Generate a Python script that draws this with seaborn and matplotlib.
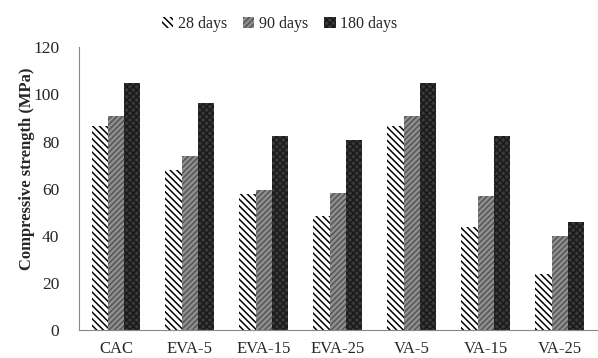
import numpy as np
import pandas as pd
import matplotlib
matplotlib.use("Agg")
import matplotlib.pyplot as plt
import seaborn as sns

# Data
mixes = ["CAC", "EVA-5", "EVA-15", "EVA-25", "VA-5", "VA-15", "VA-25"]
ages = ["28 days", "90 days", "180 days"]
days_28 = [86.5, 68.0, 57.8, 48.5, 86.5, 43.7, 23.8]
days_90 = [90.8, 74.0, 59.6, 58.3, 90.8, 57.0, 40.0]
days_180 = [105.0, 96.5, 82.2, 80.7, 105.0, 82.2, 45.8]

df = pd.DataFrame({
    "mix": mixes * 3,
    "age": [a for a in ages for _ in mixes],
    "strength": days_28 + days_90 + days_180,
})

sns.set_style("white")
plt.rcParams["font.family"] = ["Liberation Serif", "DejaVu Serif"]
plt.rcParams["hatch.linewidth"] = 1.1

fig = plt.figure(figsize=(5.98, 3.58), dpi=100)
ax = fig.add_axes([0.132, 0.078, 0.866, 0.79])

faces = ["white", "#8f8f8f", "#3a3a3a"]
hatches = ["\\\\\\\\\\", "//////", "xxxxx"]
edges = ["black", "#555555", "#1a1a1a"]

sns.barplot(data=df, x="mix", y="strength", hue="age", order=mixes,
            hue_order=ages, palette=faces, width=0.66, gap=0,
            saturation=1, ax=ax, legend=False)

for cont, fc, h, ec in zip(ax.containers, faces, hatches, edges):
    for bar in cont:
        bar.set_facecolor(fc)
        bar.set_hatch(h)
        bar.set_edgecolor(ec)
        bar.set_linewidth(0)

ax.set_ylim(0, 120)
ax.set_xlim(-0.5, len(mixes) - 0.5)
ax.set_yticks(np.arange(0, 121, 20))
ax.set_xticks(np.arange(len(mixes)))
ax.set_xticks(np.arange(-0.5, len(mixes), 1), minor=True)
ax.tick_params(axis="x", which="major", length=0, labelsize=12, pad=8)
ax.tick_params(axis="x", which="minor", length=4, color="#888888", direction="out")
ax.tick_params(axis="y", length=4, color="#888888", direction="out", labelsize=12.5, pad=10)

ax.set_xlabel("")
ax.set_ylabel("Compressive strength (MPa)", fontsize=12, fontweight="bold")
ax.yaxis.set_label_coords(-0.085, 0.57)

for side in ["top", "right"]:
    ax.spines[side].set_visible(False)
for side in ["left", "bottom"]:
    ax.spines[side].set_color("#888888")
    ax.spines[side].set_linewidth(0.8)

handles = [matplotlib.patches.Patch(facecolor=fc, edgecolor=ec, hatch=h, linewidth=0)
           for fc, h, ec in zip(faces, hatches, edges)]
fig.legend(handles, ages, loc="upper center", bbox_to_anchor=(0.468, 0.995), ncol=3,
           frameon=False, fontsize=11.5, handlelength=0.7, handleheight=0.7,
           handletextpad=0.3, columnspacing=1.0)

fig.savefig("out.png", dpi=100)
